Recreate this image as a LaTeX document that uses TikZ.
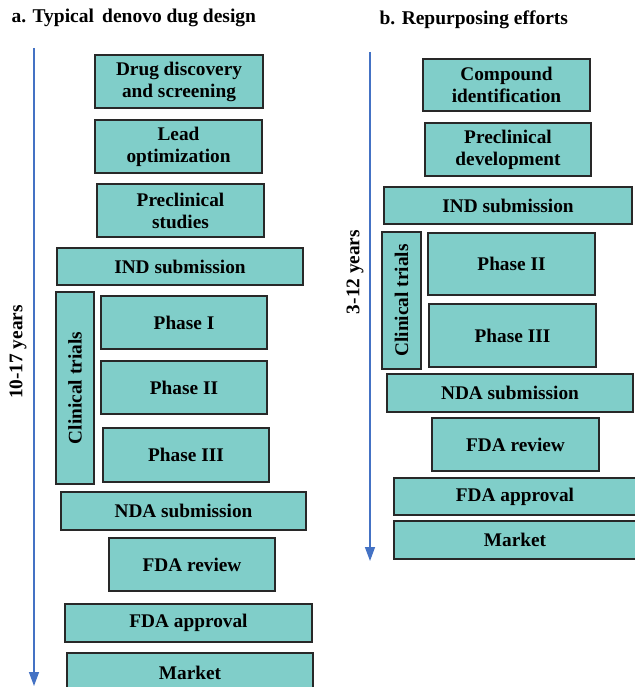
\documentclass[tikz,border=0pt]{standalone}
\usepackage{fontspec}
\setmainfont{Liberation Serif}
\usepackage{xcolor}
\usetikzlibrary{positioning, arrows.meta}

\definecolor{boxfill}{RGB}{128,206,201}
\definecolor{boxline}{RGB}{40,40,40}
\definecolor{timeblue}{RGB}{68,114,196}

\begin{document}
\begin{tikzpicture}[
  x=1pt, y=-1pt,
  every node/.style={font=\fontsize{19.3}{22}\selectfont\bfseries},
  box/.style={rectangle, draw=boxline, line width=1.3pt, fill=boxfill,
              align=center, inner sep=2pt},
  title/.style={anchor=west, font=\fontsize{19.5}{22}\selectfont\bfseries},
  yearlabel/.style={rotate=90},
  timeline/.style={draw=timeblue, line width=1.4pt,
                   -{Triangle[length=14pt,width=10pt]}}
]
  \useasboundingbox (0,0) rectangle (634,687);

  % a. de novo design
  \node[title] (a-title) at (8,18) {a. Typical\, denovo dug design};
  \coordinate (a-start) at (34,48);
  \coordinate (a-end) at (34,686);
  \draw[timeline] (a-start) -- (a-end);
  \node[yearlabel] (a-years) at (18,352) {10-17 years};

  \node[box, minimum width=168pt, minimum height=53pt] (a-drug) at (179,81.5)
    {Drug discovery\\and screening};
  \node[box, minimum width=167pt, minimum height=53pt] (a-lead) at (178.5,146.5)
    {Lead\\optimization};
  \node[box, minimum width=167pt, minimum height=53pt] (a-precl) at (180.5,210.5)
    {Preclinical\\studies};
  \node[box, minimum width=246pt, minimum height=37pt] (a-ind) at (180,266.5)
    {IND submission};
  \node[box, minimum width=192pt, minimum height=38pt, rotate=90] (a-clin) at (75,388)
    {Clinical trials};
  \node[box, minimum width=166pt, minimum height=53pt] (a-ph1) at (184,322.5)
    {Phase I};
  \node[box, minimum width=166pt, minimum height=53pt] (a-ph2) at (184,387.5)
    {Phase II};
  \node[box, minimum width=166pt, minimum height=54pt] (a-ph3) at (186,455)
    {Phase III};
  \node[box, minimum width=245pt, minimum height=38pt] (a-nda) at (183.5,511)
    {NDA submission};
  \node[box, minimum width=166pt, minimum height=53pt] (a-rev) at (192,564.5)
    {FDA review};
  \node[box, minimum width=247pt, minimum height=38pt] (a-appr) at (188.5,623)
    {FDA approval};
  \node[box, minimum width=246pt, minimum height=39pt] (a-market) at (190,672.5)
    {Market};

  % b. repurposing
  \node[title] (b-title) at (376,20) {b. Repurposing efforts};
  \coordinate (b-start) at (370,52);
  \coordinate (b-end) at (370,561);
  \draw[timeline] (b-start) -- (b-end);
  \node[yearlabel] (b-years) at (355,272) {3-12 years};

  \node[box, minimum width=167pt, minimum height=52pt] (b-comp) at (506.5,85)
    {Compound\\identification};
  \node[box, minimum width=166pt, minimum height=53pt] (b-precl) at (508,149.5)
    {Preclinical\\development};
  \node[box, minimum width=248pt, minimum height=37pt] (b-ind) at (508,205.5)
    {IND submission};
  \node[box, minimum width=137pt, minimum height=39pt, rotate=90] (b-clin) at (401.5,300.5)
    {Clinical trials};
  \node[box, minimum width=167pt, minimum height=62pt] (b-ph2) at (511.5,264)
    {Phase II};
  \node[box, minimum width=167pt, minimum height=63pt] (b-ph3) at (512.5,335.5)
    {Phase III};
  \node[box, minimum width=246pt, minimum height=38pt] (b-nda) at (510,393)
    {NDA submission};
  \node[box, minimum width=167pt, minimum height=53pt] (b-rev) at (515.5,444.5)
    {FDA review};
  \node[box, minimum width=242pt, minimum height=37pt] (b-appr) at (515,496.5)
    {FDA approval};
  \node[box, minimum width=242pt, minimum height=38pt] (b-market) at (515,540)
    {Market};
\end{tikzpicture}
\end{document}
